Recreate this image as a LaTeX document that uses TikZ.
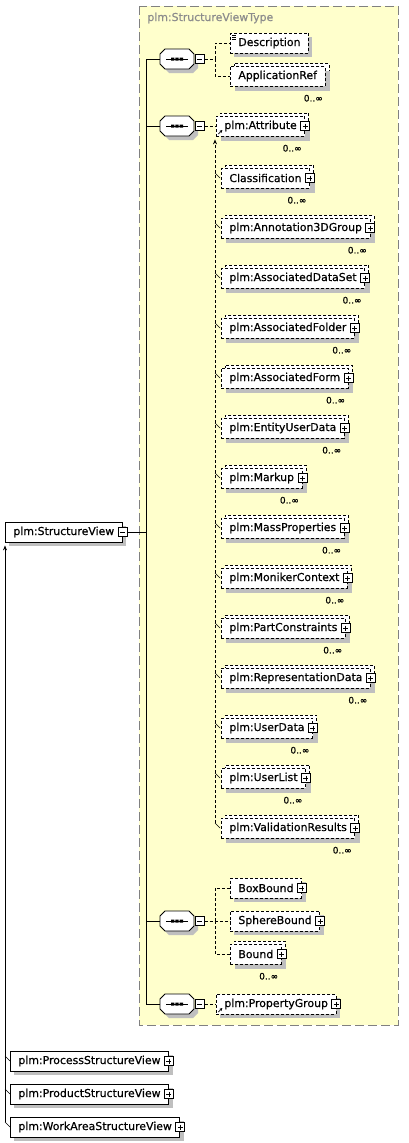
\documentclass[tikz,border=0pt]{standalone}
\usepackage{fontspec}
\setmainfont{DejaVu Sans}
\newfontfamily\elemfont{DejaVu Sans}[FakeBold=0.5]
\usetikzlibrary{positioning, shadows, arrows.meta}
\definecolor{typefill}{HTML}{FFFFCC}
\tikzset{
	elemtext/.style={font=\elemfont\fontsize{10.9}{13}\selectfont, text=black}
}
\tikzset{
	box/.style={elemtext, draw, fill=white, anchor=west, minimum height=20pt, inner xsep=8pt, inner ysep=0pt},
	optbox/.style={box, dash pattern=on 3pt off 2pt},
	single/.style={drop shadow={shadow xshift=4pt, shadow yshift=-4pt, opacity=1, fill=black!25}},
	multi/.style={general shadow={shadow xshift=4pt, shadow yshift=3pt, opacity=1, fill=white, draw=black, dash pattern=on 3pt off 2pt},
		drop shadow={shadow xshift=5pt, shadow yshift=-5pt, opacity=1, fill=black!25}},
	mult/.style={font=\elemfont\fontsize{9}{10}\selectfont, inner sep=0pt},
	conn/.style={dash pattern=on 3pt off 2pt},
	tick/.style={solid},
	subst/.style={-{Stealth[length=5pt, width=4pt]}}
}
\tikzset{
	plusbox/.style={draw, solid, fill=white, minimum size=9pt, inner sep=0pt,
		path picture={\draw ([xshift=2pt]path picture bounding box.west) -- ([xshift=-2pt]path picture bounding box.east);
			\draw ([yshift=-2pt]path picture bounding box.north) -- ([yshift=2pt]path picture bounding box.south);}},
	minusbox/.style={draw, solid, fill=white, minimum size=9pt, inner sep=0pt,
		path picture={\draw ([xshift=2pt]path picture bounding box.west) -- ([xshift=-2pt]path picture bounding box.east);}},
	docbox/.style={path picture={\draw[solid, line width=0.6pt] ([shift={(2pt,-2pt)}]path picture bounding box.north west) -- ++(4pt,0pt)
			++(-4pt,-2pt) -- ++(4pt,0pt) ++(-4pt,-2pt) -- ++(4pt,0pt);}},
	refbox/.style={path picture={\draw[solid, line width=0.8pt, -{Stealth[length=3pt, width=3pt]}] ([shift={(2pt,2pt)}]path picture bounding box.south west) -- ++(4pt,4pt);}}
}
% sequence compositor: octagon with dots, minus box on the right
\tikzset{
	seqpic/.pic={
		\fill[black!25] (-13pt,-1pt) -- (-8pt,-6pt) -- (16pt,-6pt) -- (21pt,-1pt) -- (21pt,-9pt) -- (16pt,-14pt) -- (-8pt,-14pt) -- (-13pt,-9pt) -- cycle;
		\filldraw[fill=white] (-17pt,5pt) -- (-12pt,10pt) -- (12pt,10pt) -- (17pt,5pt) -- (17pt,-5pt) -- (12pt,-10pt) -- (-12pt,-10pt) -- (-17pt,-5pt) -- cycle;
		\draw (-11pt,0pt) -- (11pt,0pt);
		\fill (-6pt,-1.5pt) rectangle (-2.6pt,1.5pt) (-1.7pt,-1.5pt) rectangle (1.7pt,1.5pt) (2.6pt,-1.5pt) rectangle (6pt,1.5pt);
		\coordinate (-in) at (-17pt,0pt);
		\node[minusbox, anchor=west] (-x) at (18pt,0pt) {};
	}
}

\begin{document}
\begin{tikzpicture}[x=1pt, y=-1pt, line width=0.8pt]
	\useasboundingbox (0,0) rectangle (408,1143);
	% complex type area
	\draw[fill=typefill, draw=black!50, dash pattern=on 9pt off 4pt] (139,6) rectangle (398,1025);
	\node[elemtext, text=black!45, anchor=west, inner sep=0pt] (tname) at (147,18) {plm:StructureViewType};

	\node[box, single] (sv) at (5,532) {plm:StructureView\hspace{1pt}};
	\node[minusbox] (sv-x) at (sv.east) {};

	% sequences
	\pic (seq1) at (177,59) {seqpic};
	\pic (seq2) at (177,126) {seqpic};
	\pic (seq3) at (177,921) {seqpic};
	\pic (seq4) at (177,1004) {seqpic};
	\foreach \s in {seq1, seq2, seq3, seq4}
		\draw (sv-x.east) -| ([xshift=-14pt]\s-in) -- (\s-in);

	% first sequence
	\node[optbox, single, docbox] (desc) at (230,43) {Description};
	\node[optbox, multi] (appref) at (230,76) {ApplicationRef};
	\node[mult, below=8pt of appref.south east, xshift=-12pt] (appref-m) {0..∞};
	\draw[conn] (seq1-x.east) -| ([xshift=-15pt]desc.west) -- (desc.west);
	\draw[conn] (seq1-x.east) -| ([xshift=-15pt]appref.west) -- (appref.west);

	% second sequence, attribute and its substitution group
	\node[optbox, multi, refbox] (attr) at (216,126) {plm:Attribute\hspace{3.5pt}};
	\node[plusbox] (attr-x) at (attr.east) {};
	\node[mult, below=8pt of attr.south east, xshift=-13pt] (attr-m) {0..∞};
	\draw[conn] (seq2-x.east) -- (attr.west);
	\foreach \nm/\txt [count=\i from 0] in {cls/Classification, annot/plm:Annotation3DGroup,
		adset/plm:AssociatedDataSet, afolder/plm:AssociatedFolder, aform/plm:AssociatedForm,
		eud/plm:EntityUserData, markup/plm:Markup, massp/plm:MassProperties,
		moniker/plm:MonikerContext, pcons/plm:PartConstraints, repdata/plm:RepresentationData,
		udata/plm:UserData, ulist/plm:UserList, valres/plm:ValidationResults}
	{
		\node[optbox, multi] (\nm) at (221,178+50*\i) {\txt\hspace{3.5pt}};
		\node[plusbox] (\nm-x) at (\nm.east) {};
		\node[mult, below=8pt of \nm.south east, xshift=-13pt] (\nm-m) {0..∞};
		\draw[tick, line width=0.6pt] ([shift={(-6pt,5pt)}]\nm.west) -- ([xshift=-1pt]\nm.west);
	}
	\draw[conn, subst] ([shift={(-6pt,5pt)}]valres.west) -- ([shift={(-1pt,-3pt)}]attr.south west);

	% third sequence
	\node[optbox, single] (boxb) at (230,888) {BoxBound\hspace{3.5pt}};
	\node[plusbox] (boxb-x) at (boxb.east) {};
	\node[optbox, single] (sphb) at (230,921) {SphereBound\hspace{3.5pt}};
	\node[plusbox] (sphb-x) at (sphb.east) {};
	\node[optbox, multi] (bound) at (230,954) {Bound\hspace{3.5pt}};
	\node[plusbox] (bound-x) at (bound.east) {};
	\node[mult, below=8pt of bound.south east, xshift=-13pt] (bound-m) {0..∞};
	\foreach \c in {boxb, sphb, bound}
		\draw[conn] (seq3-x.east) -| ([xshift=-15pt]\c.west) -- (\c.west);

	% fourth sequence
	\node[optbox, single, refbox] (pgroup) at (216,1004) {plm:PropertyGroup\hspace{3.5pt}};
	\node[plusbox] (pgroup-x) at (pgroup.east) {};
	\draw[conn] (seq4-x.east) -- (pgroup.west);

	% substitution group of plm:StructureView
	\node[box, single] (procsv) at (10,1061) {plm:ProcessStructureView\hspace{3.5pt}};
	\node[plusbox] (procsv-x) at (procsv.east) {};
	\node[box, single] (prodsv) at (10,1094) {plm:ProductStructureView\hspace{3.5pt}};
	\node[plusbox] (prodsv-x) at (prodsv.east) {};
	\node[box, single] (wasv) at (10,1127) {plm:WorkAreaStructureView\hspace{3.5pt}};
	\node[plusbox] (wasv-x) at (wasv.east) {};
	\foreach \m in {procsv, prodsv, wasv}
		\draw[tick, line width=0.6pt] ([shift={(-5pt,5pt)}]\m.west) -- (\m.west);
	\draw[subst] ([shift={(-5pt,5pt)}]wasv.west) -- ([yshift=-3pt]sv.south west);
\end{tikzpicture}
\end{document}
